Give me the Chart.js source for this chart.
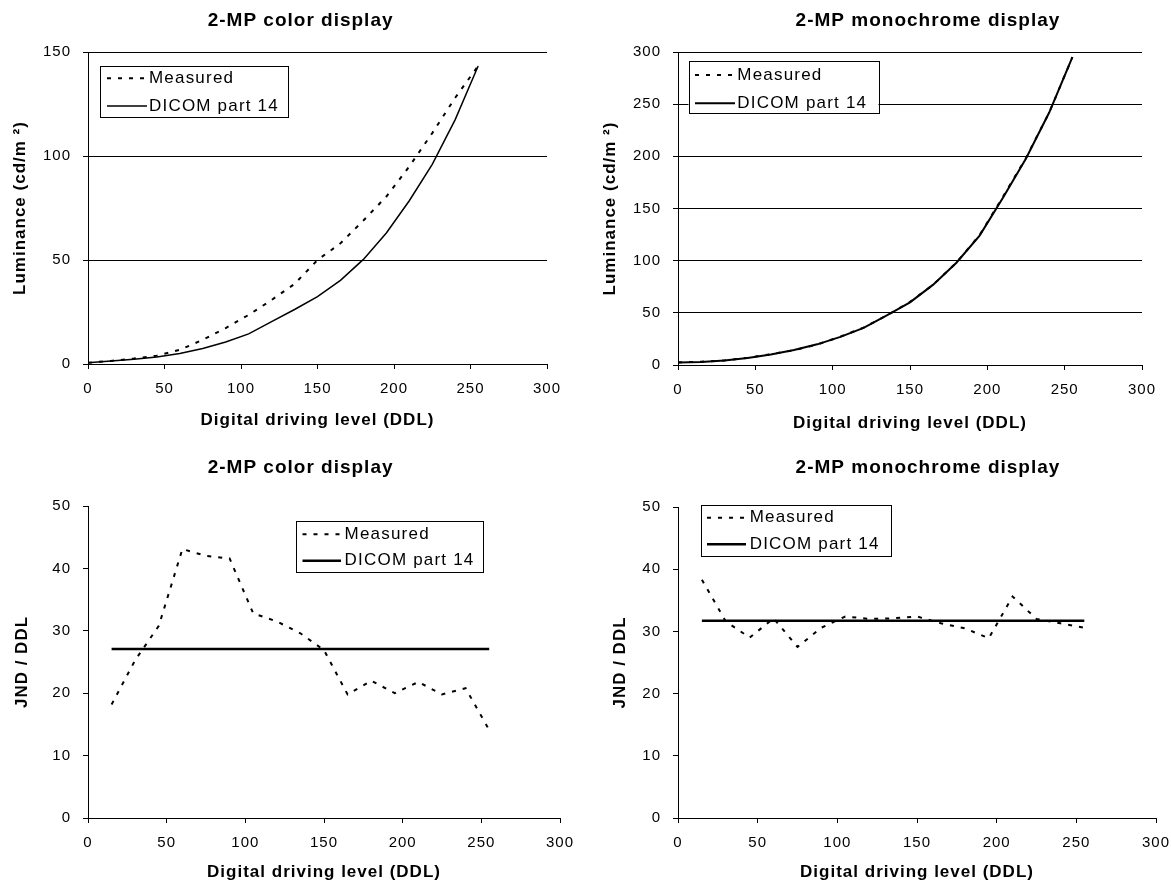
<!DOCTYPE html>
<html>
<head>
<meta charset="utf-8">
<script src="https://cdn.jsdelivr.net/npm/chart.js@4.4.0/dist/chart.umd.min.js"></script>
<style>
html, body { margin: 0; padding: 0; background: #fff; }
body { position: relative; width: 1171px; height: 883px; overflow: hidden; }
canvas { position: absolute; }
</style>
</head>
<body>
<canvas id="lumColor" width="590" height="440" style="left:0;top:0"></canvas>
<canvas id="lumMono" width="600" height="440" style="left:590px;top:0"></canvas>
<canvas id="jndColor" width="590" height="443" style="left:0;top:440px"></canvas>
<canvas id="jndMono" width="600" height="443" style="left:590px;top:440px"></canvas>
<script>
// measured every 15 DDL
var ddl = [0, 15, 30, 45, 60, 75, 90, 105, 120, 135, 150, 165, 180, 195, 210, 225, 240, 255];
var colorMeasured = [0.6, 1.5, 2.6, 4.0, 6.8, 11.6, 17.3, 23.6, 30.8, 38.5, 50.0, 58.0, 69.0, 80.5, 95.0, 111.0, 128.0, 143.3];
var colorDicom = [0.6, 1.4, 2.3, 3.4, 5.0, 7.5, 10.6, 14.5, 20.4, 26.2, 32.4, 40.2, 50.3, 63.0, 78.5, 96.0, 117.5, 143.3];
var monoMeasured = [2.4, 3.2, 4.4, 6.9, 10.3, 14.2, 19.6, 27.2, 35.8, 47.5, 60.5, 77.0, 98.0, 124.5, 161.0, 198.5, 242.0, 295.0];
var monoDicom = [2.4, 2.9, 4.3, 6.8, 10.0, 14.3, 19.8, 27.0, 35.5, 47.5, 60.0, 77.0, 98.0, 124.0, 160.0, 198.0, 242.0, 295.0];

// JND per DDL, between successive measurements
var ddlJnd = [15, 30, 45, 60, 75, 90, 105, 120, 135, 150, 165, 180, 195, 210, 225, 240, 255];
var colorJndMeasured = [18.2, 25.3, 30.8, 43.1, 42.0, 41.6, 32.8, 31.5, 29.6, 26.9, 19.8, 22.0, 20.0, 21.8, 19.8, 20.8, 14.1];
var colorJndDicom = [27.1, 27.1, 27.1, 27.1, 27.1, 27.1, 27.1, 27.1, 27.1, 27.1, 27.1, 27.1, 27.1, 27.1, 27.1, 27.1, 27.1];
var monoJndMeasured = [38.3, 31.6, 29.0, 32.1, 27.5, 30.6, 32.4, 32.0, 32.1, 32.4, 31.3, 30.5, 28.9, 35.6, 32.0, 31.3, 30.6];
var monoJndDicom = [31.7, 31.7, 31.7, 31.7, 31.7, 31.7, 31.7, 31.7, 31.7, 31.7, 31.7, 31.7, 31.7, 31.7, 31.7, 31.7, 31.7];

var xTicks = [0, 50, 100, 150, 200, 250, 300];

var FONT = "'Liberation Sans', Arial, sans-serif";
Chart.defaults.font.family = FONT;
Chart.defaults.color = '#000';

function pairs(xs, ys) {
    var out = [];
    for (var i = 0; i < xs.length; i++) out.push({ x: xs[i], y: ys[i] });
    return out;
}

// excel text is drawn a bit wide
var spacing = {
    id: 'spacing',
    beforeLayout: function (chart) { chart.ctx.letterSpacing = '1px'; },
    beforeDraw: function (chart) { chart.ctx.letterSpacing = '1px'; }
};

var panelTitle = {
    id: 'panelTitle',
    afterDraw: function (chart, args, o) {
        var c = chart.ctx;
        c.save();
        c.font = 'bold 19px ' + FONT;
        c.letterSpacing = '1px';
        c.fillStyle = '#000';
        c.textAlign = 'center';
        c.textBaseline = 'middle';
        c.fillText(o.text, o.x, o.y);
        c.restore();
    }
};

var boxLegend = {
    id: 'boxLegend',
    afterDatasetsDraw: function (chart, args, o) {
        var c = chart.ctx;
        c.save();
        c.fillStyle = '#fff';
        c.fillRect(o.x, o.y, o.w, o.h);
        c.strokeStyle = '#000';
        c.lineWidth = 1;
        c.strokeRect(Math.round(o.x) + 0.5, Math.round(o.y) + 0.5, Math.round(o.w), Math.round(o.h));
        var rows = [o.row1, o.row2];
        chart.data.datasets.forEach(function (ds, i) {
            c.beginPath();
            c.setLineDash(ds.borderDash || []);
            c.lineWidth = ds.borderWidth;
            c.moveTo(o.lineX0, rows[i]);
            c.lineTo(o.lineX1, rows[i]);
            c.stroke();
            c.setLineDash([]);
            c.fillStyle = '#000';
            c.font = '17px ' + FONT;
            c.letterSpacing = '1.2px';
            c.textAlign = 'left';
            c.textBaseline = 'middle';
            c.fillText(ds.label, o.textX, rows[i]);
        });
        c.restore();
    }
};

function panel(id, p) {
    return new Chart(document.getElementById(id), {
        type: 'line',
        data: {
            datasets: [{
                label: 'Measured',
                data: pairs(p.mx, p.my),
                borderColor: '#000',
                borderWidth: 2,
                borderDash: [4, 7],
                pointRadius: 0,
                tension: 0,
                fill: false
            }, {
                label: 'DICOM part 14',
                data: pairs(p.dx, p.dy),
                borderColor: '#000',
                borderWidth: p.solidW,
                pointRadius: 0,
                tension: 0,
                fill: false
            }]
        },
        options: {
            responsive: false,
            animation: false,
            devicePixelRatio: 1,
            layout: { padding: { left: 0, top: p.top, right: p.right, bottom: 0 } },
            plugins: {
                legend: { display: false },
                tooltip: { enabled: false },
                panelTitle: p.title,
                boxLegend: p.legend
            },
            scales: {
                x: {
                    type: 'linear',
                    min: 0,
                    max: 300,
                    afterBuildTicks: function (s) { s.ticks = xTicks.map(function (v) { return { value: v }; }); },
                    ticks: { padding: 11, font: { size: 15 }, maxRotation: 0, autoSkip: false },
                    grid: { drawOnChartArea: false, tickLength: 5, color: '#000' },
                    border: { color: '#000', width: 1 },
                    title: {
                        display: true,
                        text: 'Digital driving level (DDL)',
                        font: { size: 17, weight: 'bold' },
                        padding: { top: 0, bottom: p.xtPad }
                    },
                    afterFit: function (s) { s.height = p.xH; }
                },
                y: {
                    type: 'linear',
                    min: 0,
                    max: p.ymax,
                    ticks: { stepSize: p.ystep, padding: 12, font: { size: 15 } },
                    grid: { drawOnChartArea: p.grid, tickLength: 5, color: '#000' },
                    border: { color: '#000', width: 1 },
                    title: {
                        display: true,
                        text: p.ytitle,
                        font: { size: 17, weight: 'bold' },
                        padding: { top: p.ytPad, bottom: 0 }
                    },
                    afterFit: function (s) { s.width = 88; }
                }
            }
        },
        plugins: [spacing, panelTitle, boxLegend]
    });
}

panel('lumColor', {
    mx: ddl, my: colorMeasured, dx: ddl, dy: colorDicom, solidW: 1.5,
    top: 52, right: 43, xH: 76, xtPad: 9, ytPad: 10.5,
    ymax: 150, ystep: 50, grid: true, ytitle: 'Luminance (cd/m \u00b2)',
    title: { text: '2-MP color display', x: 300.6, y: 21 },
    legend: { x: 100, y: 66, w: 188, h: 51, row1: 78.3, row2: 106, lineX0: 107, lineX1: 147, textX: 149 }
});

panel('lumMono', {
    mx: ddl, my: monoMeasured, dx: ddl, dy: monoDicom, solidW: 2,
    top: 52, right: 48, xH: 75, xtPad: 6.5, ytPad: 10.5,
    ymax: 300, ystep: 50, grid: true, ytitle: 'Luminance (cd/m \u00b2)',
    title: { text: '2-MP monochrome display', x: 338, y: 21 },
    legend: { x: 98.5, y: 61, w: 190, h: 52, row1: 75, row2: 103.3, lineX0: 105, lineX1: 145, textX: 147.3 }
});

panel('jndColor', {
    mx: ddlJnd, my: colorJndMeasured, dx: ddlJnd, dy: colorJndDicom, solidW: 2.5,
    top: 66, right: 30, xH: 65, xtPad: 0, ytPad: 12.3,
    ymax: 50, ystep: 10, grid: false, ytitle: 'JND / DDL',
    title: { text: '2-MP color display', x: 300.6, y: 27.3 },
    legend: { x: 296, y: 81, w: 187, h: 51, row1: 94.3, row2: 120.7, lineX0: 302.5, lineX1: 341, textX: 344.6 }
});

panel('jndMono', {
    mx: ddlJnd, my: monoJndMeasured, dx: ddlJnd, dy: monoJndDicom, solidW: 2.5,
    top: 67, right: 34, xH: 65, xtPad: 0, ytPad: 19.8,
    ymax: 50, ystep: 10, grid: false, ytitle: 'JND / DDL',
    title: { text: '2-MP monochrome display', x: 338, y: 27.3 },
    legend: { x: 111, y: 65, w: 190, h: 51, row1: 77.7, row2: 104.3, lineX0: 117, lineX1: 156, textX: 159.7 }
});
</script>
</body>
</html>
